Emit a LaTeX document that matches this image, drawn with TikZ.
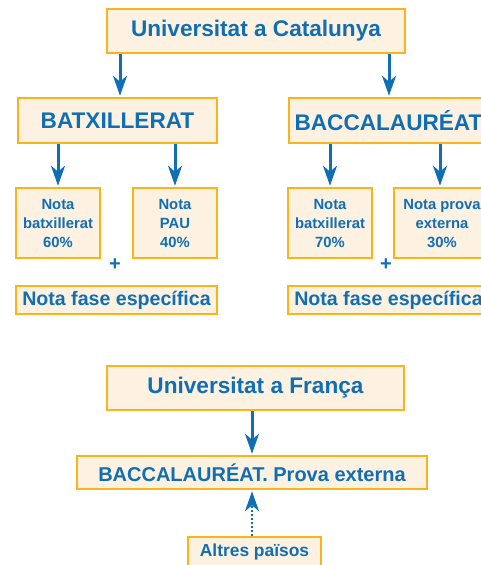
\documentclass[tikz,border=0pt]{standalone}
\usepackage{fontspec}
\setmainfont{Liberation Sans}
\usetikzlibrary{arrows.meta}
\definecolor{boxfill}{HTML}{FDF1E1}
\definecolor{boxline}{HTML}{FBB31B}
\definecolor{txtblue}{HTML}{0F6EB4}
\tikzset{
  box/.style={draw=boxline, fill=boxfill, line width=2.5pt, text=txtblue, inner sep=0pt, align=center},
  big/.style={font=\bfseries\fontsize{22.6}{27}\selectfont},
  mid/.style={font=\bfseries\fontsize{19.6}{24}\selectfont},
  small/.style={font=\bfseries\fontsize{14.8}{19}\selectfont},
  arr/.style={draw=txtblue, line width=3pt, shorten >=1pt, -{Stealth[length=20pt,width=14pt,inset=6pt]}},
  dotarr/.style={draw=txtblue, line width=2pt, dash pattern=on 2pt off 2pt, shorten >=1pt, -{Stealth[length=20pt,width=14pt,inset=6pt]}},
  plussign/.style={text=txtblue, font=\bfseries\fontsize{20}{24}\selectfont, inner sep=0pt}
}
\begin{document}
\begin{tikzpicture}[x=1pt,y=-1pt]
\useasboundingbox (0,0) rectangle (481,565);
\clip (0,0) rectangle (481,565);
% top: Catalunya
\node[box,big,minimum width=298pt,minimum height=44pt] (cat) at (256,31) {Universitat a Catalunya};
\node[box,big,minimum width=199pt,minimum height=45pt] (batx) at (117.5,120.5) {BATXILLERAT};
\node[box,big,minimum width=199pt,minimum height=45pt] (bacc) at (388.5,120.5) {BACCALAURÉAT};
\node[box,small,minimum width=84pt,minimum height=70pt] (nb1) at (58,223) {Nota\\batxillerat\\60\%};
\node[box,small,minimum width=84pt,minimum height=70pt] (pau) at (175,223) {Nota\\PAU\\40\%};
\node[box,small,minimum width=84pt,minimum height=70pt] (nb2) at (330,223) {Nota\\batxillerat\\70\%};
\node[box,small,minimum width=96pt,minimum height=70pt] (pext) at (442,223) {Nota prova\\externa\\30\%};
\node[plussign] (plusA) at (115,265) {+};
\node[plussign] (plusB) at (386,265) {+};
\node[box,mid,minimum width=201pt,minimum height=28pt] (fase1) at (116.5,300) {Nota fase específica};
\node[box,mid,minimum width=201pt,minimum height=28pt] (fase2) at (388.5,300) {Nota fase específica};
% bottom: França
\node[box,big,minimum width=297pt,minimum height=44pt] (fra) at (255.5,388) {Universitat a França};
\node[box,mid,font=\bfseries\fontsize{20}{24}\selectfont,minimum width=350pt,minimum height=33pt] (bprova) at (252,472.5) {BACCALAURÉAT. Prova externa};
\node[box,font=\bfseries\fontsize{17.4}{21}\selectfont,minimum width=133pt,minimum height=30pt] (altres) at (254.5,552) {Altres països};
% arrows
\draw[arr] ([xshift=-136pt]cat.south) -- ([xshift=2.5pt]batx.north);
\draw[arr] ([xshift=133pt]cat.south) -- ([xshift=0.5pt]bacc.north);
\draw[arr] (batx.south -| nb1.north) -- (nb1.north);
\draw[arr] (batx.south -| pau.north) -- (pau.north);
\draw[arr] (bacc.south -| nb2.north) -- (nb2.north);
\draw[arr] ([xshift=-2pt]bacc.south -| pext.north) -- ([xshift=-2pt]pext.north);
\draw[arr] (fra.south -| bprova.north) -- (bprova.north);
\draw[dotarr] (altres.north -| bprova.south) -- (bprova.south);
\end{tikzpicture}
\end{document}
